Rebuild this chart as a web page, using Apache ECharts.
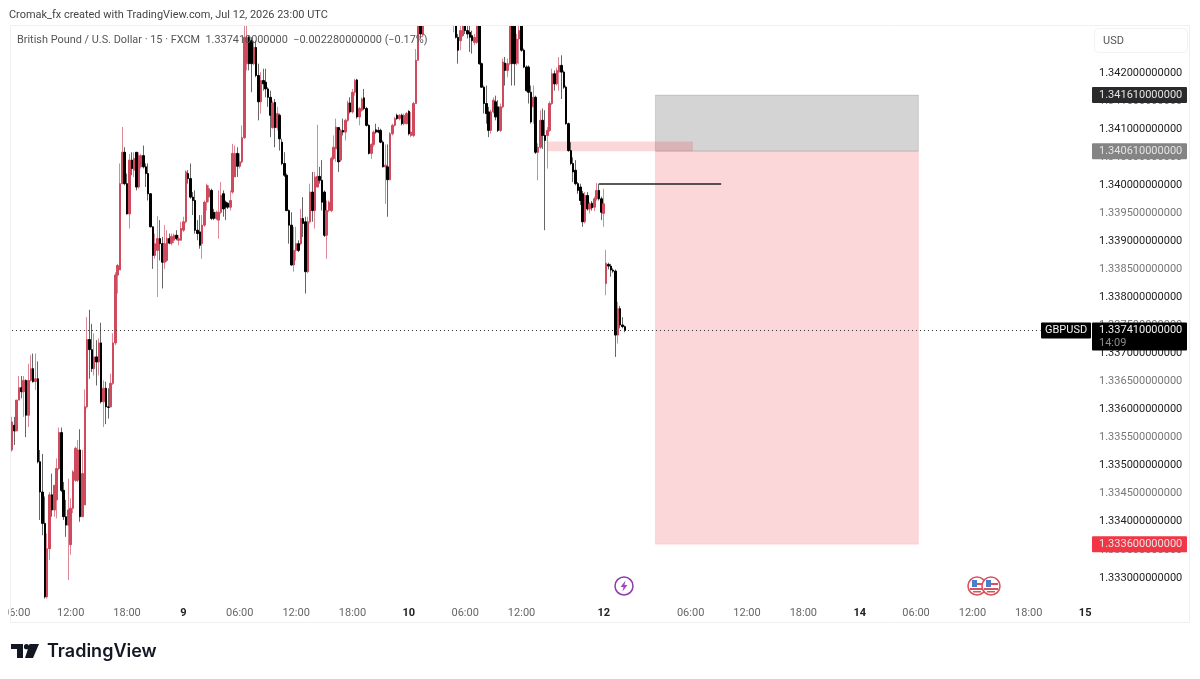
<!DOCTYPE html>
<html>
<head>
<meta charset="utf-8">
<title>GBPUSD 15</title>
<script src="https://cdn.jsdelivr.net/npm/echarts@6/dist/echarts.min.js"></script>
<style>
html, body { margin: 0; padding: 0; background: #fff; }
#chart { width: 1200px; height: 679px; }
</style>
</head>
<body>
<div id="chart"></div>
<script>
// prices are in 1e-5 units, one entry per 15 minute bar, null = bar off the top of the chart
var N = null;
var opens = [
133528,133572,133562,133617,133639,133632,133652,133590,133652,133673,
133650,133655,133507,133453,133397,133266,133352,133448,133421,133439,
133495,133559,133456,133409,133394,133359,133424,133474,133474,133528,
133409,133430,133605,133725,133707,133673,133694,133685,133719,133614,
133638,133605,133605,133647,133719,133840,133849,134003,134059,134003,
133949,134045,134027,134059,133997,134033,134053,134033,134021,133985,
133926,133875,133884,133905,133896,133863,133866,133905,133897,133902,
133911,133902,133902,133920,133935,134021,134012,133979,133973,133920,
133917,133896,133929,133970,133979,133991,133952,133941,133938,133952,
133985,133970,133968,133961,133988,134015,134057,134034,134042,134085,
134217,134264,134258,134217,134246,134196,134149,134187,134184,134172,
134157,134103,134148,134103,134125,134077,134039,134018,133955,133929,
133858,133884,133896,133896,133941,133935,133846,133935,133988,133955,
133997,134016,134009,133988,133911,133955,133955,134048,134065,134103,
134045,134098,134095,134116,134147,134131,134166,134188,134122,134134,
134156,134137,134107,134057,134073,134099,134098,134098,134077,134033,
134033,134010,134092,134107,134125,134119,134125,134110,134110,134132,
134089,134089,134146,134223,134300,134268,N,N,N,N,
N,N,N,N,N,N,N,N,134300,134300,
134264,134258,134267,134290,134276,134273,134267,134255,134255,134300,
134217,134175,134146,134131,134098,134131,134149,134140,134098,134140,
134218,134205,134217,134310,134285,134218,134261,134310,134241,134211,
134211,134166,134140,134157,134059,134068,134116,134089,134089,134098,
134146,134199,134181,134202,134214,134202,134175,134110,134062,134039,
134027,134003,133997,133985,133935,133982,133958,133968,133961,133976,
133991,133976,133950,133825,133859,133856,133849,133847,133733,133780,
133751,133748];
var closes = [
133578,133562,133617,133639,133632,133652,133590,133652,133673,133650,
133655,133507,133453,133397,133266,133352,133448,133421,133465,133495,
133559,133456,133409,133394,133421,133424,133489,133531,133528,133409,
133486,133605,133725,133707,133673,133694,133685,133719,133614,133638,
133605,133604,133647,133719,133840,133857,134003,134059,134003,133949,
134045,134030,134048,133997,134053,134053,134033,134021,133985,133926,
133875,133896,133905,133896,133863,133896,133905,133897,133909,133911,
133905,133905,133923,133935,134024,134012,133979,133973,133920,133914,
133893,133929,133970,134000,133994,133941,133941,133952,133952,133982,
133958,133961,133961,133973,134057,134057,134034,134042,134085,134264,
134264,134217,134217,134246,134196,134149,134187,134181,134172,134157,
134125,134147,134103,134128,134083,134039,134018,133955,133929,133858,
133884,133896,133884,133941,133932,133846,133935,133988,133955,134015,
134016,134009,133970,133911,133955,133970,134048,134068,134104,134042,
134098,134095,134116,134147,134131,134166,134187,134122,134137,134154,
134137,134107,134057,134073,134095,134095,134095,134077,134033,134036,
134010,134092,134107,134119,134119,134125,134110,134125,134128,134092,
134095,134146,134223,134300,134270,134320,N,N,N,N,
N,N,N,N,N,N,N,N,134320,134264,
134241,134276,134290,134276,134270,134264,134258,134264,134300,134217,
134175,134146,134128,134098,134131,134152,134122,134098,134140,134220,
134205,134217,134290,134217,134217,134261,134276,134241,134211,134169,
134166,134113,134157,134059,134068,134116,134089,134080,134098,134146,
134199,134181,134205,134214,134202,134175,134110,134062,134039,134024,
134003,133991,133973,133935,133982,133958,133967,133960,133976,133991,
133976,133952,133967,133861,133856,133849,133847,133733,133780,133751,
133748,133741];
var highs = [
133587,133587,133617,133660,133660,133660,133654,133682,133697,133700,
133700,133686,133528,133521,133445,133379,133453,133486,133465,133513,
133568,133568,133471,133439,133477,133442,133492,133534,133546,133565,
133528,133636,133765,133778,133753,133736,133724,133727,133755,133652,
133650,133638,133664,133736,133845,133860,134039,134104,134068,134021,
134056,134059,134059,134059,134059,134056,134071,134039,134039,133986,
133927,133914,133945,133938,133908,133929,133920,133914,133914,133914,
133920,133911,133935,133944,134027,134027,134039,133988,133991,133938,
133947,133947,133973,134003,134000,133994,133958,133955,133991,134006,
133991,133973,133970,133991,134074,134071,134068,134057,134107,134285,
134285,134267,134264,134258,134258,134217,134202,134208,134208,134175,
134169,134151,134154,134140,134128,134083,134059,134021,133957,133952,
133926,133926,133902,133958,133979,133944,133944,134003,134024,134024,
134108,134033,134045,133991,133973,133973,134051,134089,134119,134104,
134101,134119,134119,134151,134157,134172,134190,134190,134140,134157,
134172,134140,134109,134075,134098,134110,134104,134101,134080,134073,
134073,134095,134110,134122,134128,134127,134128,134128,134131,134134,
134131,134149,134243,134320,134340,134340,N,N,N,N,
N,N,N,N,N,N,N,N,134330,134320,
134270,134285,134310,134310,134285,134285,134276,134270,134320,134330,
134219,134178,134178,134140,134135,134157,134160,134152,134146,134226,
134229,134226,134320,134320,134300,134270,134285,134330,134244,134214,
134214,134178,134178,134160,134075,134134,134137,134134,134104,134150,
134208,134205,134210,134229,134232,134205,134178,134112,134077,134050,
134045,134006,134003,133990,133988,133988,133970,133972,133980,134004,
134003,133980,133994,133885,133862,133860,133852,133850,133792,133785,
133765,133750];
var lows = [
133525,133537,133562,133617,133620,133587,133551,133569,133650,133648,
133635,133504,133403,133376,133263,133263,133332,133409,133409,133406,
133492,133453,133403,133373,133296,133341,133415,133471,133471,133400,
133409,133430,133602,133655,133667,133661,133643,133661,133611,133569,
133574,133584,133604,133644,133715,133807,133849,134003,134000,133948,
133923,134018,134015,133991,133994,134030,134030,133997,133973,133925,
133851,133869,133801,133866,133816,133851,133863,133895,133893,133897,
133902,133893,133902,133917,133932,134003,133976,133947,133914,133902,
133887,133869,133926,133955,133970,133938,133938,133938,133905,133949,
133944,133938,133958,133955,133985,134015,134015,134030,134039,134083,
134205,134205,134166,134214,134193,134116,134128,134169,134157,134140,
134086,134101,134068,134098,134062,134036,134015,133954,133896,133856,
133846,133866,133881,133893,133908,133807,133843,133932,133935,133923,
133997,134003,133955,133908,133869,133952,133952,134045,134042,134024,
134042,134089,134080,134113,134128,134128,134160,134119,134107,134131,
134134,134105,134055,134047,134069,134092,134093,134075,134032,133967,
133944,134009,134089,134105,134117,134116,134107,134107,134109,134089,
134086,134086,134146,134223,134262,134264,N,N,N,N,
N,N,N,N,N,N,N,N,134273,134262,
134217,134241,134265,134270,134262,134238,134235,134250,134252,134215,
134174,134128,134110,134086,134092,134128,134116,134095,134095,134137,
134178,134193,134214,134178,134178,134214,134216,134238,134209,134167,
134146,134110,134110,134056,134009,134065,134065,133920,134030,134095,
134143,134169,134178,134169,134154,134172,134108,134060,134036,134006,
134000,133985,133965,133926,133932,133955,133950,133955,133954,133973,
133973,133938,133926,133804,133850,133837,133844,133694,133718,133745,
133745,133738];

// time axis: bar slots including the empty future, and the slots that carry a label
var barSlots = 460;
var timeTickBars = [2, 25, 49, 73, 97, 121, 145, 169, 193, 217, 252, 289, 313, 337, 361, 385, 409, 433, 457];
var timeTickLabels = ['06:00', '12:00', '18:00', '9', '06:00', '12:00', '18:00', '10', '06:00', '12:00', '12', '06:00', '12:00', '18:00', '14', '06:00', '12:00', '18:00', '15'];

var priceTicks = [1.333, 1.3335, 1.334, 1.3345, 1.335, 1.3355, 1.336, 1.3365, 1.337, 1.3375, 1.338, 1.3385, 1.339, 1.3395, 1.34, 1.3405, 1.341, 1.3415, 1.342];
var priceMin = 1.33264;
var priceMax = 1.34286;

// short position drawing
var targetPrice = 1.3336;
var entryPrice = 1.34061;
var stopPrice = 1.34161;
var lastPrice = 1.33741;
var positionBars = [274, 386];
// supply zone and the drawn level
var zoneBars = [228, 290];
var zonePrices = [1.34078, 1.34061];
var levelBars = [250, 302];
var levelPrice = 1.34003;
var lastPriceLineEnd = 438;

var tagPrices = [stopPrice, entryPrice, targetPrice];
var tagTexts = ['1.341610000000', '1.340610000000', '1.333600000000'];
var tagColors = ['#2a2a2c', '#848484', '#f23645'];

var FONT = 'Roboto, "Noto Sans", sans-serif';

function toPrice(v) {
    return v == null ? '-' : v / 100000;
}

var categories = [];
var tickNames = {};
var wickData = [];
var bodyData = [];
for (var i = 0; i < barSlots; i++) {
    categories.push(String(i));
}
for (var t = 0; t < timeTickBars.length; t++) {
    tickNames[timeTickBars[t]] = timeTickLabels[t];
}
for (var b = 0; b < opens.length; b++) {
    wickData.push([toPrice(opens[b]), toPrice(closes[b]), toPrice(lows[b]), toPrice(highs[b])]);
    if (opens[b] == null) {
        bodyData.push(['-', '-', '-', '-']);
    } else {
        bodyData.push([toPrice(opens[b]), toPrice(closes[b]),
            toPrice(Math.min(opens[b], closes[b])), toPrice(Math.max(opens[b], closes[b]))]);
    }
}

function renderPriceTag(params, api) {
    var y = api.coord([0, api.value(1)])[1];
    return {
        type: 'group',
        children: [
            { type: 'rect', shape: { x: 1092, y: y - 8, width: 95, height: 16, r: 1 }, style: { fill: tagColors[params.dataIndex] } },
            { type: 'text', style: { x: 1099, y: y, text: tagTexts[params.dataIndex], fill: '#e4e4e4', font: '11px ' + FONT, textVerticalAlign: 'middle' } }
        ]
    };
}

function renderLastPrice(params, api) {
    var y = api.coord([0, api.value(1)])[1];
    return {
        type: 'group',
        children: [
            { type: 'rect', shape: { x: 1041, y: y - 8, width: 50, height: 16, r: 1 }, style: { fill: '#000' } },
            { type: 'text', style: { x: 1045, y: y, text: 'GBPUSD', fill: '#f0f0f0', font: '11px ' + FONT, textVerticalAlign: 'middle' } },
            { type: 'rect', shape: { x: 1092, y: y - 8, width: 95, height: 28, r: 1 }, style: { fill: '#000' } },
            { type: 'text', style: { x: 1099, y: y, text: '1.337410000000', fill: '#f0f0f0', font: '11px ' + FONT, textVerticalAlign: 'middle' } },
            { type: 'text', style: { x: 1099, y: y + 13, text: '14:09', fill: '#8c8c8c', font: '11px ' + FONT, textVerticalAlign: 'middle' } }
        ]
    };
}

// event icons and logo are plain decoration, not data
function usFlag(cx, cy) {
    return {
        type: 'group',
        x: cx,
        y: cy,
        z: 50,
        children: [
            { type: 'circle', shape: { cx: 0, cy: 0, r: 9 }, style: { fill: '#fff', stroke: '#d9535f', lineWidth: 1.6 } },
            { type: 'rect', shape: { x: -5, y: -6, width: 5, height: 7 }, style: { fill: '#4a7fc9' } },
            { type: 'rect', shape: { x: 0, y: -3, width: 7, height: 2 }, style: { fill: '#d9535f' } },
            { type: 'rect', shape: { x: -7, y: 2, width: 14, height: 2 }, style: { fill: '#d9535f' } },
            { type: 'rect', shape: { x: -4, y: 5, width: 8, height: 1.5 }, style: { fill: '#d9535f' } }
        ]
    };
}

var chart = echarts.init(document.getElementById('chart'), null, { renderer: 'canvas' });

chart.setOption({
    animation: false,
    backgroundColor: '#fff',
    textStyle: { fontFamily: FONT },
    grid: { left: 10, right: 109, top: 25, bottom: 81 },
    xAxis: {
        type: 'category',
        data: categories,
        axisLine: { show: false },
        axisTick: { show: false },
        splitLine: { show: false },
        axisLabel: {
            margin: 10,
            interval: function (index) { return tickNames[index] !== undefined; },
            hideOverlap: false,
            formatter: function (value, index) {
                var name = tickNames[index];
                return name.length < 3 ? '{day|' + name + '}' : name;
            },
            color: '#666',
            fontSize: 11,
            rich: { day: { color: '#222', fontWeight: 'bold', fontSize: 11 } }
        }
    },
    yAxis: {
        type: 'value',
        position: 'right',
        scale: true,
        min: priceMin,
        max: priceMax,
        axisLine: { show: false },
        axisTick: { show: false },
        splitLine: { show: false },
        axisLabel: {
            customValues: priceTicks,
            margin: 8,
            padding: [4, 0, 0, 0],
            fontSize: 11,
            hideOverlap: false,
            formatter: function (value) { return value.toFixed(12); },
            color: function (value) {
                // half steps are printed lighter
                return Math.round(value * 10000) % 10 === 0 ? '#222' : '#777';
            }
        }
    },
    series: [
        {
            name: 'drawings',
            type: 'line',
            z: 1,
            silent: true,
            data: [],
            symbol: 'none',
            markArea: {
                silent: true,
                data: [
                    [{ xAxis: positionBars[0], yAxis: stopPrice, itemStyle: { color: 'rgba(0,0,0,0.17)', borderColor: 'rgba(0,0,0,0.12)', borderWidth: 1 } },
                     { xAxis: positionBars[1], yAxis: entryPrice }],
                    [{ xAxis: positionBars[0], yAxis: entryPrice, itemStyle: { color: 'rgba(242,54,69,0.2)', borderColor: 'rgba(242,54,69,0.1)', borderWidth: 1 } },
                     { xAxis: positionBars[1], yAxis: targetPrice }],
                    [{ xAxis: zoneBars[0], yAxis: zonePrices[0], itemStyle: { color: 'rgba(242,54,69,0.2)' } },
                     { xAxis: zoneBars[1], yAxis: zonePrices[1] }]
                ]
            },
            markLine: {
                silent: true,
                symbol: 'none',
                label: { show: false },
                data: [
                    [{ xAxis: levelBars[0], yAxis: levelPrice, lineStyle: { color: '#222', width: 1.5, type: 'solid' } },
                     { xAxis: levelBars[1], yAxis: levelPrice }],
                    [{ xAxis: 0, yAxis: lastPrice, lineStyle: { color: '#333', width: 1, type: [1, 3] } },
                     { xAxis: lastPriceLineEnd, yAxis: lastPrice }]
                ]
            }
        },
        {
            name: 'wicks',
            type: 'candlestick',
            z: 2,
            silent: true,
            clip: true,
            barWidth: 1,
            data: wickData,
            itemStyle: {
                color: 'rgba(205,85,105,0.7)',
                color0: 'rgba(0,0,0,0.6)',
                borderColor: 'rgba(205,85,105,0.7)',
                borderColor0: 'rgba(0,0,0,0.6)',
                borderWidth: 1
            }
        },
        {
            name: 'bodies',
            type: 'candlestick',
            z: 3,
            silent: true,
            clip: true,
            barWidth: 2,
            data: bodyData,
            itemStyle: {
                color: '#cf4a5c',
                color0: '#000',
                borderColor: '#cf4a5c',
                borderColor0: '#000',
                borderWidth: 1
            }
        },
        {
            name: 'tags',
            type: 'custom',
            z: 10,
            silent: true,
            clip: false,
            renderItem: renderPriceTag,
            data: tagPrices.map(function (p) { return [0, p]; })
        },
        {
            name: 'last',
            type: 'custom',
            z: 11,
            silent: true,
            clip: false,
            renderItem: renderLastPrice,
            data: [[0, lastPrice]]
        }
    ],
    graphic: [
        // candles above the top of the pane are masked off
        { type: 'rect', z: 40, silent: true, shape: { x: 0, y: 0, width: 1092, height: 25 }, style: { fill: '#fff' } },
        { type: 'rect', z: 45, silent: true, shape: { x: 10.5, y: 25.5, width: 1179, height: 597 }, style: { fill: 'none', stroke: '#f0f0f0', lineWidth: 1 } },
        { type: 'rect', z: 60, silent: true, shape: { x: 0, y: 602, width: 8, height: 18 }, style: { fill: '#fff' } },
        { type: 'text', z: 60, silent: true, x: 9, y: 10, style: { text: 'Cromak_fx created with TradingView.com, Jul 12, 2026 23:00 UTC', fill: '#444', font: '10.95px ' + FONT } },
        { type: 'text', z: 60, silent: true, x: 17, y: 35, style: { text: 'British Pound / U.S. Dollar \u00b7 15 \u00b7 FXCM  1.337410000000  \u22120.002280000000 (\u22120.17%)', fill: '#555', font: '10.9px ' + FONT } },
        { type: 'rect', z: 60, silent: true, shape: { x: 1094.5, y: 28.5, width: 93, height: 24, r: 4 }, style: { fill: '#fff', stroke: '#f2f2f2', lineWidth: 1 } },
        { type: 'text', z: 61, silent: true, x: 1103, y: 36, style: { text: 'USD', fill: '#555', font: '11px ' + FONT } },
        {
            type: 'group', x: 624, y: 586, z: 50, silent: true,
            children: [
                { type: 'circle', shape: { cx: 0, cy: 0, r: 9 }, style: { fill: '#fff', stroke: '#8e3aa8', lineWidth: 1.5 } },
                { type: 'polygon', shape: { points: [[1.5, -5.5], [-3.5, 1], [-0.5, 1], [-1.5, 5.5], [3.5, -1], [0.5, -1]] }, style: { fill: '#a347c0' } }
            ]
        },
        usFlag(977, 586),
        usFlag(991, 586),
        {
            type: 'group', x: 11, y: 644, z: 60, silent: true,
            children: [
                { type: 'polygon', shape: { points: [[0, 0], [12, 0], [12, 14], [6, 14], [6, 5], [0, 5]] }, style: { fill: '#131722' } },
                { type: 'circle', shape: { cx: 15.5, cy: 2.7, r: 2.6 }, style: { fill: '#131722' } },
                { type: 'polygon', shape: { points: [[18.5, 0], [28, 0], [22, 14], [14, 14]] }, style: { fill: '#131722' } }
            ]
        },
        { type: 'text', z: 60, silent: true, x: 47, y: 643, style: { text: 'TradingView', fill: '#131722', font: '600 18px Inter, Roboto, sans-serif' } }
    ]
});
</script>
</body>
</html>
